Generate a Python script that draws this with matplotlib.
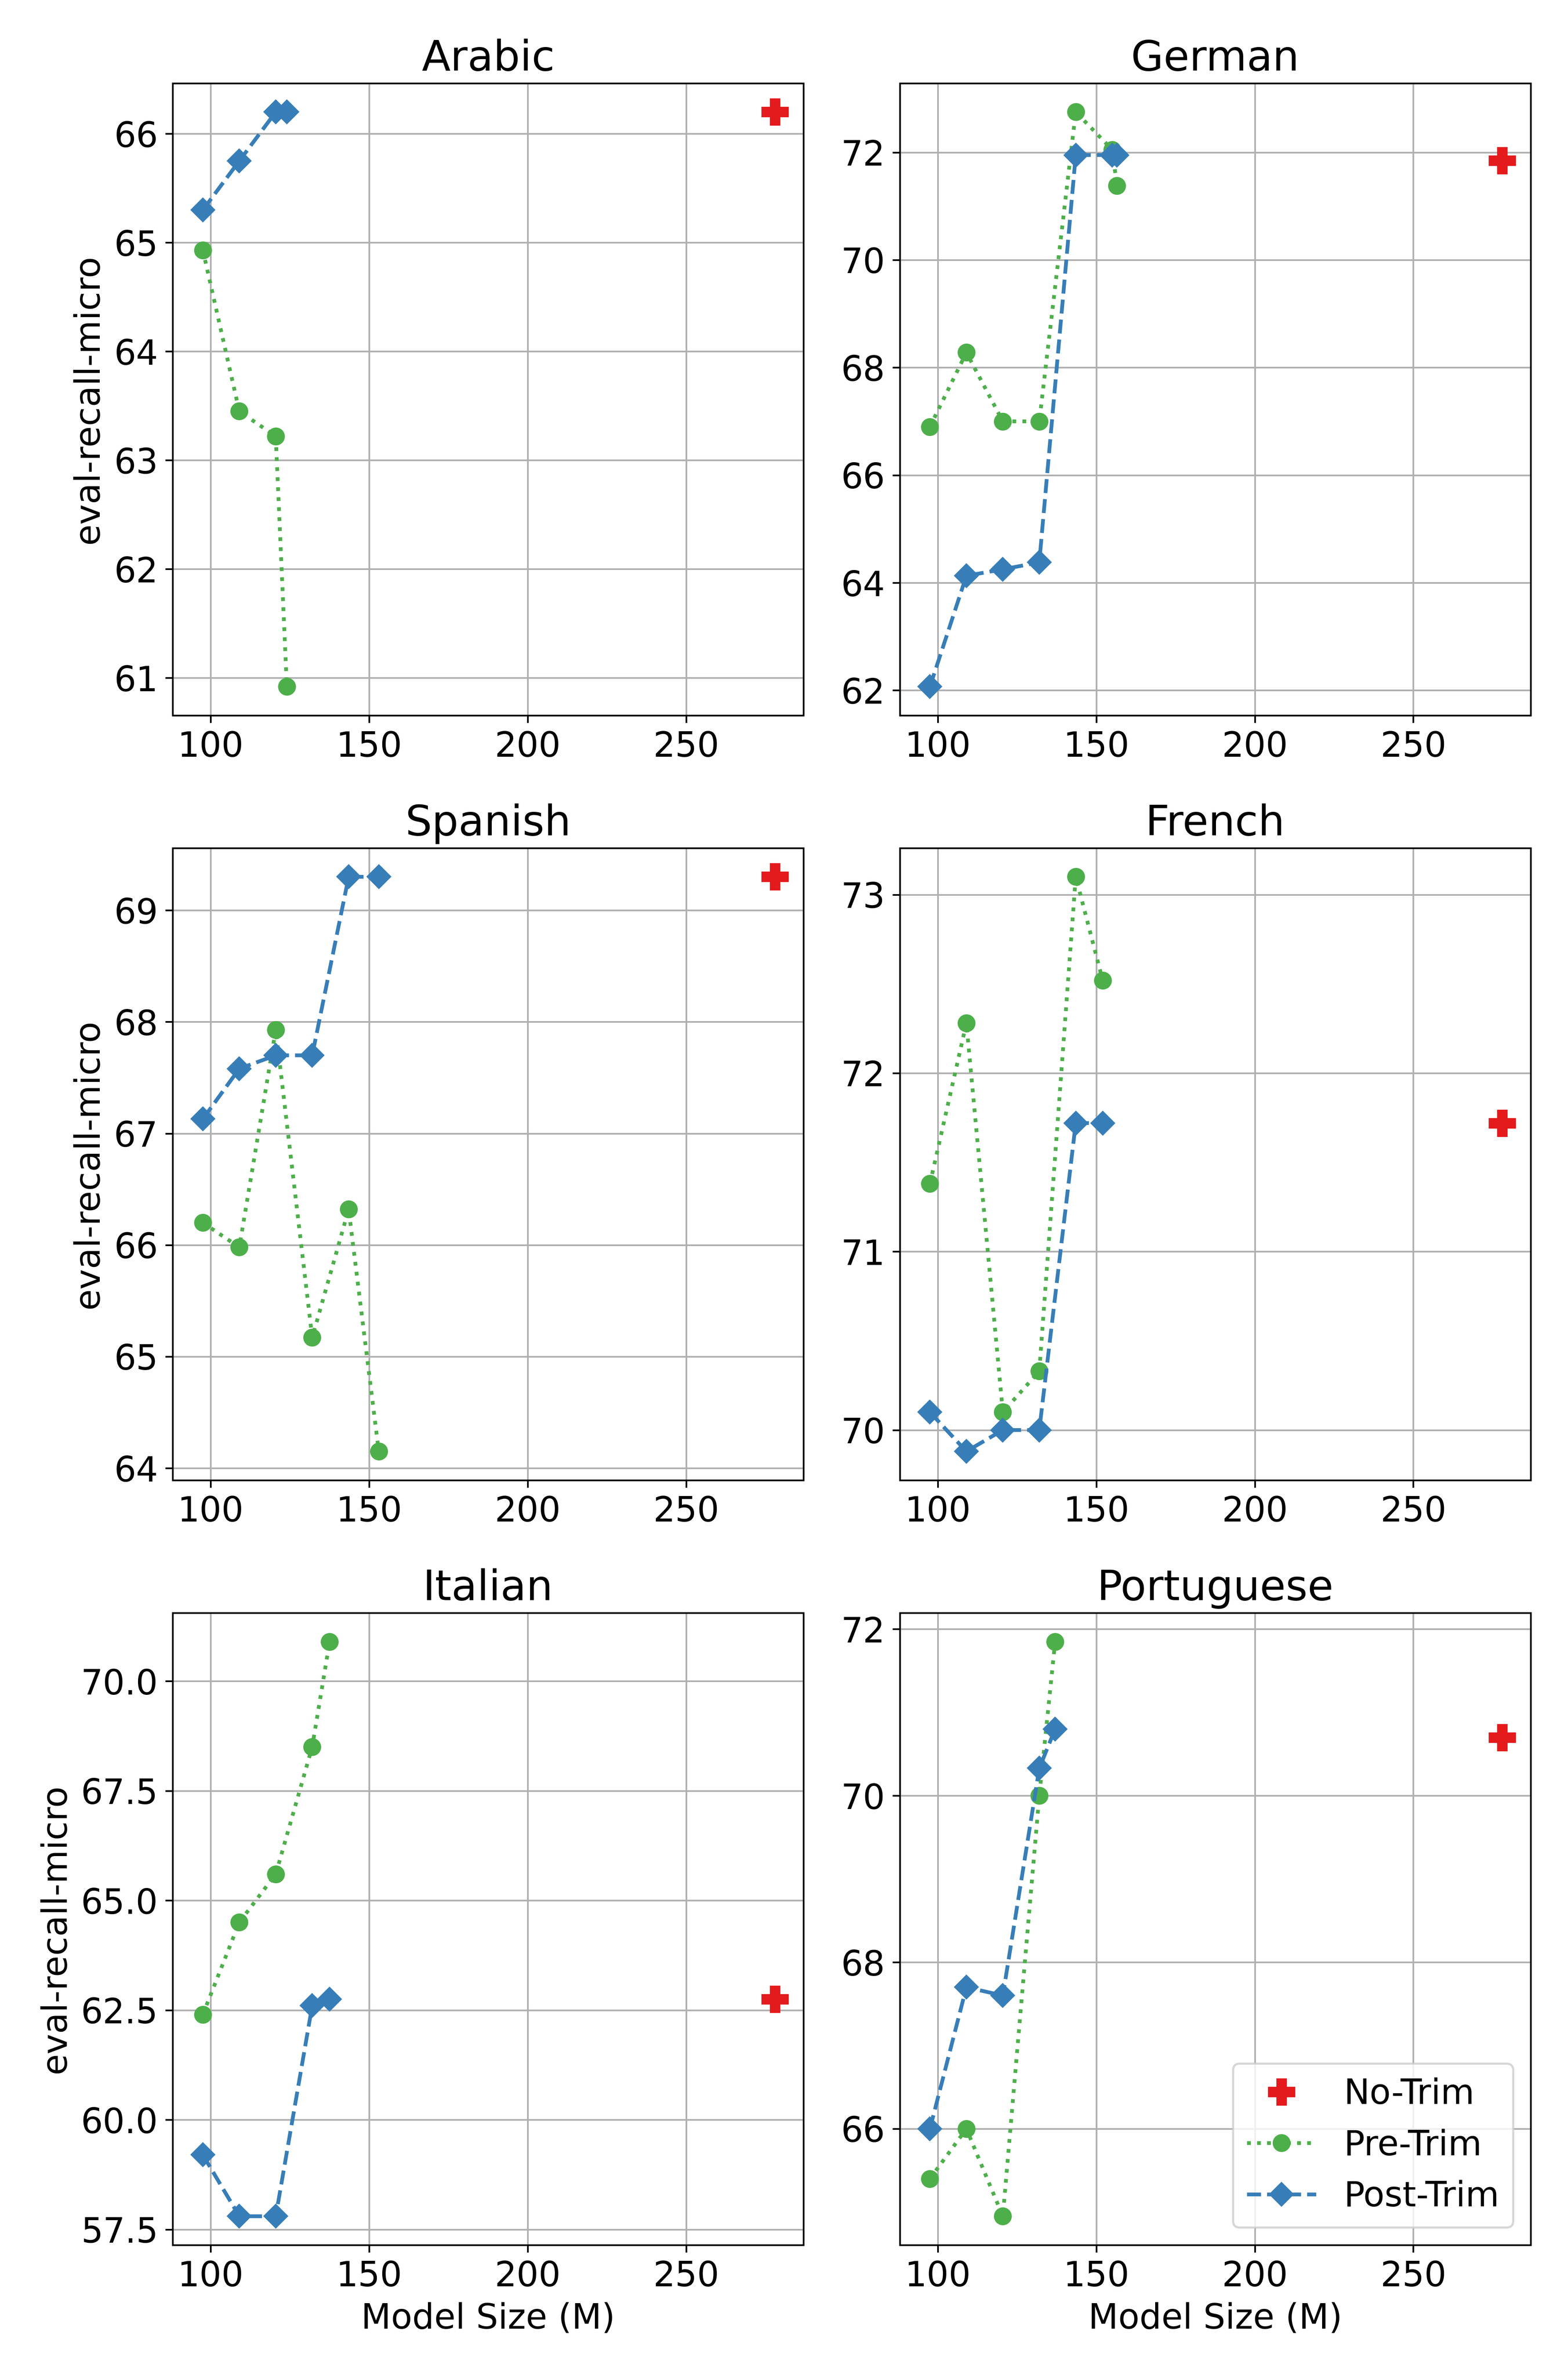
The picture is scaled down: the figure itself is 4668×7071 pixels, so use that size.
import matplotlib.pyplot as plt
from matplotlib.ticker import MultipleLocator

langs = ['Arabic', 'German', 'Spanish', 'French', 'Italian', 'Portuguese']

pre_x = {
    'Arabic': [97.5, 109, 120.5, 124],
    'German': [97.5, 109, 120.5, 132, 143.5, 155, 156.5],
    'Spanish': [97.5, 109, 120.5, 132, 143.5, 153],
    'French': [97.5, 109, 120.5, 132, 143.5, 152],
    'Italian': [97.5, 109, 120.5, 132, 137.5],
    'Portuguese': [97.5, 109, 120.5, 132, 137],
}
pre_y = {
    'Arabic': [64.93, 63.45, 63.22, 60.92],
    'German': [66.9, 68.28, 67.0, 67.0, 72.75, 72.05, 71.38],
    'Spanish': [66.2, 65.98, 67.93, 65.17, 66.32, 64.15],
    'French': [71.38, 72.28, 70.1, 70.33, 73.1, 72.52],
    'Italian': [62.4, 64.5, 65.6, 68.5, 70.9],
    'Portuguese': [65.4, 66.0, 64.95, 70.0, 71.85],
}
post_x = pre_x
post_y = {
    'Arabic': [65.3, 65.75, 66.2, 66.2],
    'German': [62.07, 64.13, 64.25, 64.38, 71.95, 71.95, 71.95],
    'Spanish': [67.13, 67.58, 67.7, 67.7, 69.3, 69.3],
    'French': [70.1, 69.88, 70.0, 70.0, 71.72, 71.72],
    'Italian': [59.2, 57.8, 57.8, 62.6, 62.75],
    'Portuguese': [66.0, 67.7, 67.6, 70.33, 70.8],
}
notrim_x = 278
notrim_y = {'Arabic': 66.2, 'German': 71.85, 'Spanish': 69.3,
            'French': 71.72, 'Italian': 62.75, 'Portuguese': 70.7}
ystep = {'Arabic': 1, 'German': 2, 'Spanish': 1, 'French': 1, 'Italian': 2.5, 'Portuguese': 2}

plt.rcParams['font.size'] = 16.5
fig, axes = plt.subplots(3, 2, figsize=(4668 / 450, 7071 / 450))
for i, (ax, lang) in enumerate(zip(axes.flat, langs)):
    ax.plot([notrim_x], [notrim_y[lang]], 'P', color='#e41a1c', markersize=12, label='No-Trim', linestyle='none')
    ax.plot(pre_x[lang], pre_y[lang], ':o', color='#4daf4a', markersize=7.5, linewidth=1.8, label='Pre-Trim')
    ax.plot(post_x[lang], post_y[lang], '--D', color='#377eb8', markersize=7.5, linewidth=1.8, label='Post-Trim')
    ax.set_title(lang, fontsize=20)
    ax.set_xlim(88, 287)
    ax.set_xticks([100, 150, 200, 250])
    ax.yaxis.set_major_locator(MultipleLocator(ystep[lang]))
    ax.grid(True)
    if i % 2 == 0:
        ax.set_ylabel('eval-recall-micro')
    if i >= 4:
        ax.set_xlabel('Model Size (M)')
axes[2, 1].legend(loc='lower right', fontsize=16.5)
fig.tight_layout()
fig.savefig('out.png', dpi=450)
